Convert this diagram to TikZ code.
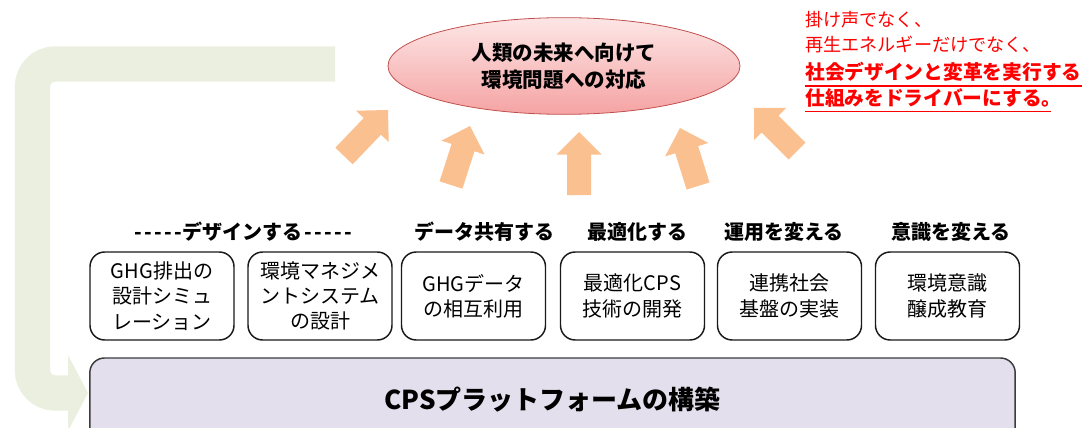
\documentclass[tikz,border=0pt]{standalone}
\usepackage{fontspec}
\setmainfont[Ligatures=TeXOff]{Noto Sans CJK JP}
\usetikzlibrary{shapes.geometric,calc}
\definecolor{loopgreen}{HTML}{EBEFDF}
\definecolor{arroworange}{HTML}{FAC090}
\definecolor{lavender}{HTML}{E4DFEC}
\definecolor{pinktop}{HTML}{FDE6E6}
\definecolor{pinkbot}{HTML}{F5A3A3}
\definecolor{pinkline}{HTML}{C0504D}
\definecolor{redtext}{HTML}{FF0000}
\definecolor{boxline}{HTML}{1A1A1A}
\tikzset{
  smallbox/.style={draw=boxline, line width=1.1pt, rounded corners=11pt, fill=white,
    minimum width=108pt, minimum height=66pt, align=center, inner sep=2pt,
    font=\fontsize{15pt}{19pt}\selectfont},
  catlabel/.style={inner sep=0pt, font=\fontsize{15pt}{18pt}\selectfont\bfseries},
  arrowfill/.style={fill=arroworange},
  redreg/.style={anchor=west, inner sep=0pt, text=redtext, font=\fontsize{13.6pt}{16pt}\selectfont},
  redbold/.style={anchor=west, inner sep=0pt, text=redtext, font=\fontsize{14.8pt}{17pt}\selectfont\bfseries},
}
\newcommand{\hyph}{\makebox[7.5pt]{-}}
\newcommand{\orangearrow}[2]{%
  \coordinate (bB) at #1; \coordinate (bT) at #2;
  \coordinate (bH) at ($(bT)!17pt!(bB)$);
  \fill[arrowfill] ($(bB)!9pt!90:(bT)$) -- ($(bH)!9pt!90:(bT)$) -- ($(bH)!17pt!90:(bT)$)
    -- (bT) -- ($(bH)!17pt!-90:(bT)$) -- ($(bH)!9pt!-90:(bT)$) -- ($(bB)!9pt!-90:(bT)$) -- cycle;}
\begin{document}
\begin{tikzpicture}[x=0.75pt, y=-0.75pt]
\useasboundingbox (0,0) rectangle (1086,428);
% green loop arrow
\coordinate (gstart) at (335,64);
\coordinate (gc1) at (32.5,64);
\coordinate (gc2) at (32.5,393);
\coordinate (gend) at (68,393);
\coordinate (ghtop) at (68,355);
\coordinate (ghtip) at (88,393);
\coordinate (ghbot) at (68,431);
\draw[loopgreen, line width=26.5pt, rounded corners=17pt] (gstart) -- (gc1) -- (gc2) -- (gend);
\fill[loopgreen] (ghtop) -- (ghtip) -- (ghbot) -- cycle;
% goal ellipse
\node[ellipse, draw=pinkline, line width=0.6pt, top color=pinktop, bottom color=pinkbot,
  minimum width=264pt, minimum height=72.5pt, align=center,
  font=\fontsize{15.4pt}{20pt}\selectfont\bfseries] (goal) at (564,66)
  {人類の未来へ向けて\\環境問題への対応};
% orange block arrows
\orangearrow{(344,156)}{(388,110)}
\orangearrow{(451,185)}{(470,126)}
\orangearrow{(579,195)}{(579,132)}
\orangearrow{(698,186)}{(680,128)}
\orangearrow{(797,151)}{(754,108)}
% red text
\node[redreg] (r1) at (805,20) {掛け声でなく、};
\node[redreg] (r2) at (805,45) {再生エネルギーだけでなく、};
\node[redbold] (r3) at (805,72) {社会デザインと変革を実行する};
\node[redbold] (r4) at (805,98) {仕組みをドライバーにする。};
\draw[redtext, line width=1.4pt] ([yshift=-4.5pt]r3.base west) -- ([yshift=-4.5pt]r3.base east);
\draw[redtext, line width=1.4pt] ([yshift=-4.5pt]r4.base west) -- ([xshift=-8pt,yshift=-4.5pt]r4.base east);
% category labels
\node[catlabel] (c1) at (243,232) {\hyph\hyph\hyph\hyph\hyph デザインする\hyph\hyph\hyph\hyph\hyph};
\node[catlabel] (c2) at (484,232) {データ共有する};
\node[catlabel] (c3) at (637,232) {最適化する};
\node[catlabel] (c4) at (784,232) {運用を変える};
\node[catlabel] (c5) at (951,232) {意識を変える};
% small boxes
\node[smallbox] (b1) at (162,296) {GHG排出の\\設計シミュ\\レーション};
\node[smallbox] (b2) at (320,296) {環境マネジメ\\ントシステム\\の設計};
\node[smallbox] (b3) at (473.5,296) {GHGデータ\\の相互利用};
\node[smallbox] (b4) at (632.5,296) {最適化CPS\\技術の開発};
\node[smallbox] (b5) at (789.5,296) {連携社会\\基盤の実装};
\node[smallbox] (b6) at (947.5,296) {環境意識\\醸成教育};
% platform box
\node[draw=boxline!85, line width=1.1pt, rounded corners=11pt, fill=lavender,
  minimum width=694pt, minimum height=63pt,
  font=\fontsize{19.5pt}{22pt}\selectfont\bfseries] (cps) at (552.5,400) {CPSプラットフォームの構築};
\end{tikzpicture}
\end{document}
